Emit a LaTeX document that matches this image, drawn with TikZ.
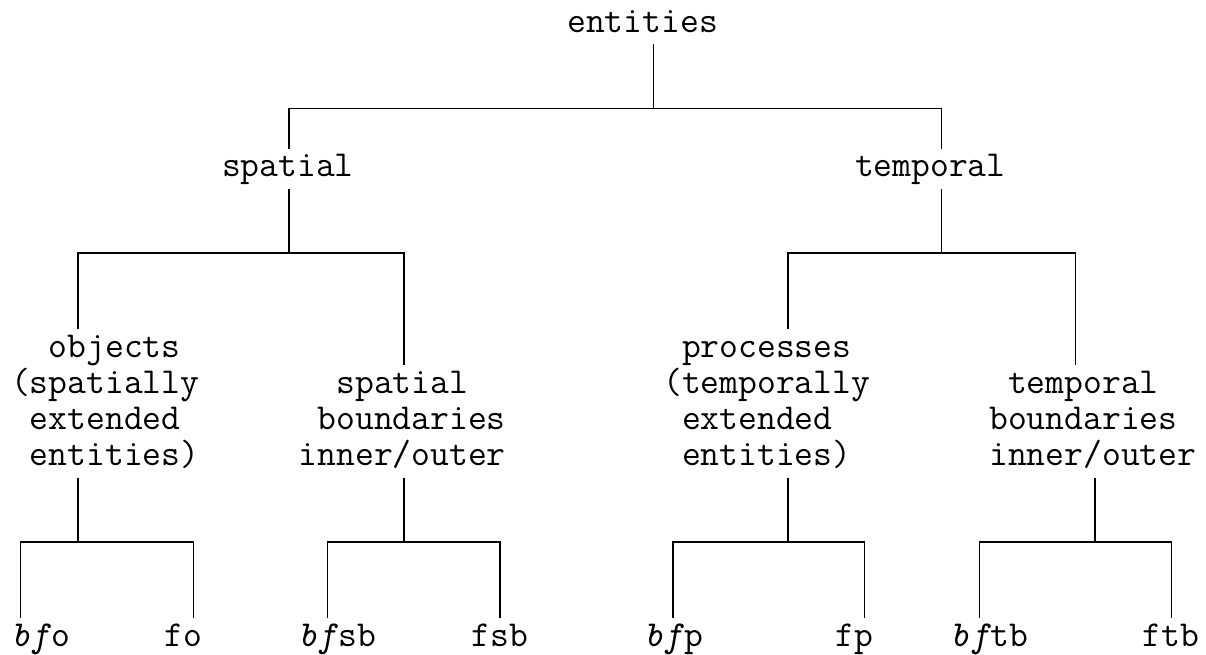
\documentclass[tikz,border=0pt]{standalone}
\usepackage{fontspec}
\usepackage{tikz}

\newcommand\asciifont{\ttfamily\fontsize{18.27}{18.07}\selectfont\lineskiplimit=-20pt\relax}
\newcommand\rs{\rule[-5pt]{0pt}{18pt}}

\begin{document}
\begin{tikzpicture}[
    x=9.59pt, y=-18.07pt,
    term/.style={font=\asciifont, inner sep=0pt, outer xsep=0pt, outer ysep=1pt,
        anchor=north west, align=left},
    branch/.style={line width=0.8pt}
]
\useasboundingbox (-0.579,-0.111) rectangle (62.3,17.986);

% top levels
\node[term] (entities) at (29,0) {\rs entities};
\node[term] (spatial) at (11,4) {\rs spatial};
\node[term] (temporal) at (44,4) {\rs temporal};

\node[term] (objects) at (0,9) {\rs\phantom{xx}objects\\\rs(spatially\\\rs\phantom{x}extended\\\rs\phantom{x}entities)};
\node[term] (spbound) at (15,10) {\rs\phantom{xx}spatial\\\rs\phantom{x}boundaries\\\rs inner/outer};
\node[term] (processes) at (34,9) {\rs\phantom{x}processes\\\rs(temporally\\\rs\phantom{x}extended\\\rs\phantom{x}entities)};
\node[term] (tmbound) at (51,10) {\rs\phantom{x}temporal\\\rs boundaries\\\rs inner/outer};

% leaves
\node[term] (bfo) at (0,17) {\rs\textit{bf}o};
\node[term] (fo) at (8,17) {\rs fo};
\node[term] (bfsb) at (15,17) {\rs\textit{bf}sb};
\node[term] (fsb) at (24,17) {\rs fsb};
\node[term] (bfp) at (33,17) {\rs\textit{bf}p};
\node[term] (fp) at (43,17) {\rs fp};
\node[term] (bftb) at (49,17) {\rs\textit{bf}tb};
\node[term] (ftb) at (59,17) {\rs ftb};

% junctions
\coordinate (j0) at (33.5,2.886);
\coordinate (j0L) at (14.5,2.886);
\coordinate (j0R) at (48.5,2.886);
\coordinate (js) at (14.5,6.886);
\coordinate (jsL) at (3.5,6.886);
\coordinate (jsR) at (20.5,6.886);
\coordinate (jt) at (48.5,6.886);
\coordinate (jtL) at (40.5,6.886);
\coordinate (jtR) at (55.5,6.886);
\coordinate (jo) at (3.5,14.886);
\coordinate (joL) at (0.5,14.886);
\coordinate (joR) at (9.5,14.886);
\coordinate (jsb) at (20.5,14.886);
\coordinate (jsbL) at (16.5,14.886);
\coordinate (jsbR) at (25.5,14.886);
\coordinate (jp) at (40.5,14.886);
\coordinate (jpL) at (34.5,14.886);
\coordinate (jpR) at (44.5,14.886);
\coordinate (jtb) at (56.5,14.886);
\coordinate (jtbL) at (50.5,14.886);
\coordinate (jtbR) at (60.5,14.886);

\draw[branch] (entities.south -| j0) -- (j0);
\draw[branch] (j0L |- spatial.north) |- (j0R) -- (j0R |- temporal.north);

\draw[branch] (spatial.south -| js) -- (js);
\draw[branch] (jsL |- objects.north) |- (jsR) -- (jsR |- spbound.north);
\draw[branch] (temporal.south -| jt) -- (jt);
\draw[branch] (jtL |- processes.north) |- (jtR) -- (jtR |- tmbound.north);

\draw[branch] (objects.south -| jo) -- (jo);
\draw[branch] (joL |- bfo.north) |- (joR) -- (joR |- fo.north);
\draw[branch] (spbound.south -| jsb) -- (jsb);
\draw[branch] (jsbL |- bfsb.north) |- (jsbR) -- (jsbR |- fsb.north);
\draw[branch] (processes.south -| jp) -- (jp);
\draw[branch] (jpL |- bfp.north) |- (jpR) -- (jpR |- fp.north);
\draw[branch] (tmbound.south -| jtb) -- (jtb);
\draw[branch] (jtbL |- bftb.north) |- (jtbR) -- (jtbR |- ftb.north);

\end{tikzpicture}
\end{document}
